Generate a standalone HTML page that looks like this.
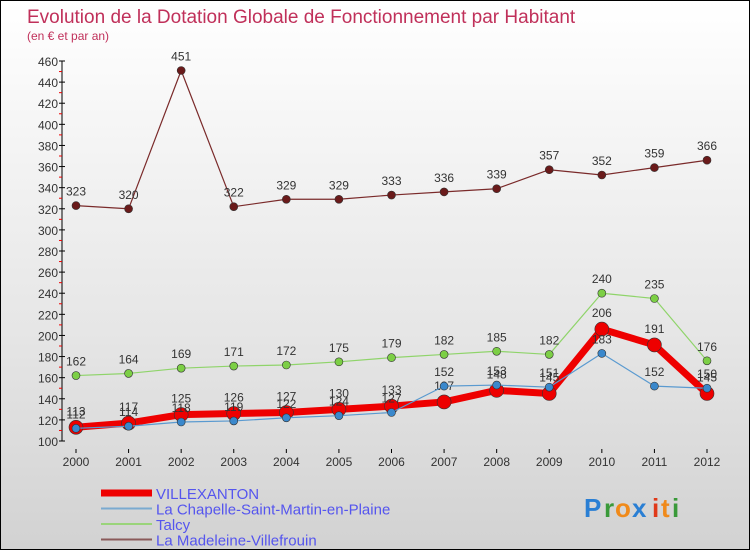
<!DOCTYPE html>
<html><head><meta charset="utf-8"><style>
body{margin:0}
#c{width:750px;height:550px;position:relative;box-sizing:border-box;border:1px solid #000;background:linear-gradient(#fff 0%,#e6e6e6 60%,#d2d2d2 100%);font-family:"Liberation Sans",sans-serif;overflow:hidden}
svg{position:absolute;left:0;top:0}
</style></head><body>
<div id="c">
<svg id="s" width="750" height="550">
<text x="26" y="22" font-size="19" fill="#c0305a">Evolution de la Dotation Globale de Fonctionnement par Habitant</text>
<text x="26" y="39" font-size="12" fill="#c0305a">(en € et par an)</text>
<g id="axes"></g><g id="series"></g>
<g id="legend"></g>
<g font-size="26" font-weight="bold">
<text x="583" y="516" fill="#2a7fd4">P</text><text x="603" y="516" fill="#3a9a3a">r</text><text x="614" y="516" fill="#f08a1a">o</text><text x="631" y="516" fill="#2a7fd4">x</text><text x="651" y="516" fill="#e03a1a">i</text><text x="660" y="516" fill="#f08a1a">t</text><text x="671" y="516" fill="#3a9a3a">i</text>
</g>
</svg></div>
<script>
const years=[2000,2001,2002,2003,2004,2005,2006,2007,2008,2009,2010,2011,2012];
const yTicks=[100,120,140,160,180,200,220,240,260,280,300,320,340,360,380,400,420,440,460];
const villexanton=[113,117,125,126,127,130,133,137,148,145,206,191,145];
const chapelle=[112,114,118,119,122,124,127,152,153,151,183,152,150];
const talcy=[162,164,169,171,172,175,179,182,185,182,240,235,176];
const madeleine=[323,320,451,322,329,329,333,336,339,357,352,359,366];
const NS='http://www.w3.org/2000/svg';
const X=i=>75+i*(706-75)/(years.length-1);
const Y=v=>440-(v-100)*(380/360);
function mk(t,a,p){const e=document.createElementNS(NS,t);for(const k in a)e.setAttribute(k,a[k]);p.appendChild(e);return e;}
const ax=document.getElementById('axes');
let l=mk('line',{x1:61,y1:Y(460),x2:61,y2:440,stroke:'#000'},ax);


yTicks.forEach(v=>{
 const t=mk('text',{x:57,y:Y(v)+5,'text-anchor':'end','font-size':12,fill:'#333'},ax);t.textContent=v;
 
 
 mk('line',{x1:58,y1:Y(v),x2:64,y2:Y(v),stroke:'#000'},ax);
 if(v<460)mk('line',{x1:58,y1:Y(v+10),x2:61,y2:Y(v+10),stroke:'#e00'},ax);
});
years.forEach((yr,i)=>{
 mk('line',{x1:X(i),y1:448,x2:X(i),y2:452,stroke:'#000'},ax);
 const t=mk('text',{x:X(i),y:465,'text-anchor':'middle','font-size':12,fill:'#333'},ax);t.textContent=yr;
 
 
});
const sg=document.getElementById('series');
function series(data,color,w,r,dot,name,labelDy){
 const g=mk('g',{},sg);
 
 
 const pl=mk('polyline',{points:data.map((v,i)=>X(i)+','+Y(v)).join(' '),fill:'none',stroke:color,'stroke-width':w,'stroke-linejoin':'round'},g);
 
 
 data.forEach((v,i)=>{
  const c=mk('circle',{cx:X(i),cy:Y(v),r:r,fill:dot,stroke:'#333','stroke-width':0.6},g);
  
  
  const t=mk('text',{x:X(i),y:Y(v)+labelDy,'text-anchor':'middle','font-size':12,fill:'#333'},g);t.textContent=v;
  
  
 });
}
series(madeleine,'#7a2a2a',1.2,4,'#6a1a1a','madeleine-series',-10);
series(talcy,'#8fd46a',1.2,4,'#7ccf45','talcy-series',-10);
series(villexanton,'#ee0000',7,7,'#ee0000','villexanton-series',-12);
series(chapelle,'#5a9ad0',1.2,4,'#3a88cc','chapelle-series',-10);
const lg=document.getElementById('legend');
[['VILLEXANTON','#ee0000',7],['La Chapelle-Saint-Martin-en-Plaine','#7aaad0',2],['Talcy','#9ad47a',2],['La Madeleine-Villefrouin','#8a5a5a',2]].forEach((e,i)=>{
 const y=492+i*15.5;
 mk('line',{x1:100,y1:y,x2:151,y2:y,stroke:e[1],'stroke-width':e[2]},lg);
 const t=mk('text',{x:155,y:y+6,'font-size':15,fill:'#5555ee'},lg);t.textContent=e[0];
 
 
});
</script>
</body></html>
